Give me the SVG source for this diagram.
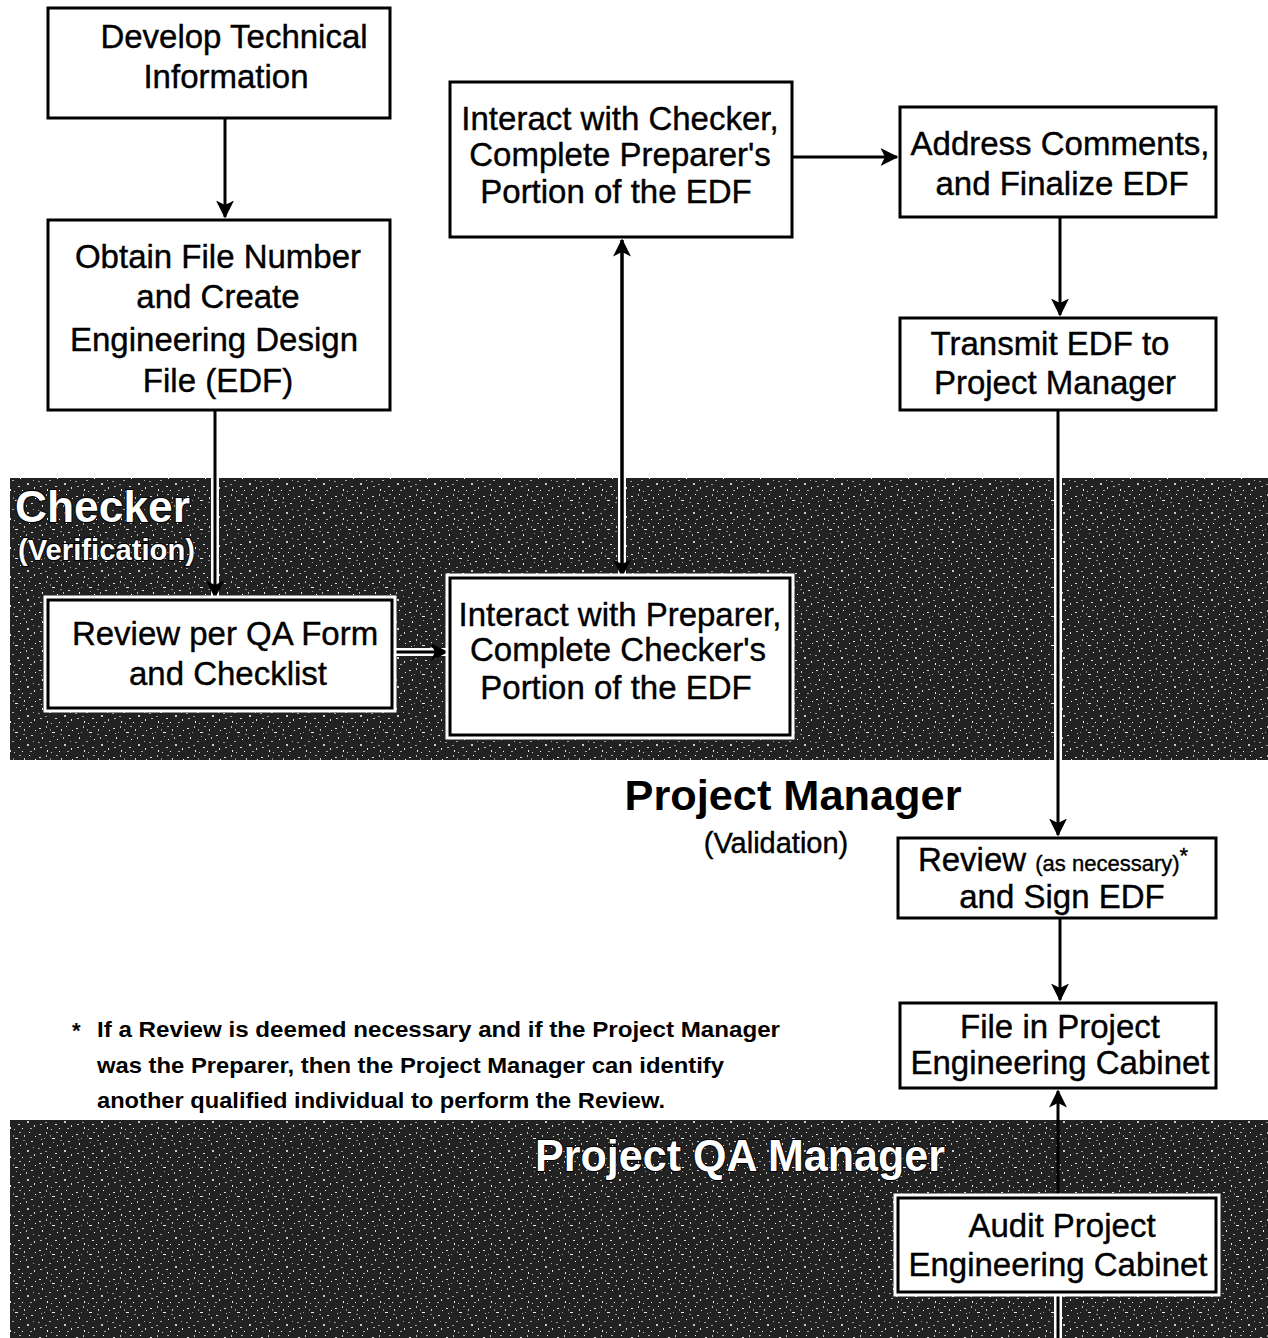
<svg xmlns="http://www.w3.org/2000/svg" width="1268" height="1338" viewBox="0 0 1268 1338">
<defs>
<style>
.box{fill:#fff;stroke:#000;stroke-width:3}
.halo{fill:none;stroke:#fff;stroke-width:9}
.t{font-family:"Liberation Sans",Arial,sans-serif;font-size:33px;fill:#000;stroke:#000;stroke-width:0.4;text-anchor:middle}
.sm{font-size:22px}
.ln{stroke:#000;stroke-width:3;fill:none}
.lnh{stroke:#fff;stroke-width:8;fill:none}
.lane{font-family:"Liberation Sans",Arial,sans-serif;font-weight:bold;fill:#fff;stroke:#000;stroke-width:2;paint-order:stroke}
.note{font-family:"Liberation Sans Narrow","Liberation Sans",Arial,sans-serif;font-weight:bold;font-size:22px;fill:#000}
</style>
<pattern id="noise" width="37" height="29" patternUnits="userSpaceOnUse">
<rect width="37" height="29" fill="#222"/>
<rect x="2" y="3" width="2" height="1" fill="#ddd"/>
<rect x="9" y="1" width="1" height="2" fill="#bbb"/>
<rect x="15" y="7" width="3" height="1" fill="#eee"/>
<rect x="24" y="4" width="1" height="2" fill="#ccc"/>
<rect x="31" y="10" width="2" height="1" fill="#ddd"/>
<rect x="5" y="12" width="1" height="2" fill="#eee"/>
<rect x="12" y="16" width="2" height="1" fill="#aaa"/>
<rect x="20" y="14" width="1" height="1" fill="#fff"/>
<rect x="27" y="19" width="2" height="2" fill="#ccc"/>
<rect x="34" y="23" width="1" height="2" fill="#ddd"/>
<rect x="3" y="22" width="2" height="1" fill="#bbb"/>
<rect x="10" y="25" width="1" height="2" fill="#eee"/>
<rect x="18" y="22" width="2" height="1" fill="#ddd"/>
<rect x="22" y="26" width="1" height="1" fill="#fff"/>
<rect x="29" y="1" width="1" height="1" fill="#fff"/>
<rect x="7" y="7" width="1" height="1" fill="#999"/>
<rect x="33" y="16" width="1" height="1" fill="#aaa"/>
<rect x="16" y="11" width="1" height="1" fill="#999"/>
<rect x="1" y="17" width="2" height="1" fill="#999"/>
<rect x="13" y="4" width="1" height="2" fill="#888"/>
<rect x="19" y="1" width="2" height="1" fill="#aaa"/>
<rect x="26" y="12" width="1" height="2" fill="#bbb"/>
<rect x="35" y="5" width="1" height="1" fill="#eee"/>
<rect x="8" y="20" width="2" height="1" fill="#999"/>
<rect x="23" y="9" width="2" height="1" fill="#888"/>
<rect x="30" y="26" width="2" height="1" fill="#aaa"/>
<rect x="14" y="27" width="1" height="1" fill="#ccc"/>
<rect x="4" y="8" width="1" height="1" fill="#bbb"/>
</pattern>
<marker id="ah" viewBox="0 0 12 12" refX="11" refY="6" markerWidth="6" markerHeight="6" orient="auto" markerUnits="strokeWidth">
<path d="M0,0 L12,6 L0,12 L3,6 z" fill="#000"/>
</marker>
</defs>

<g id="lanes">
<rect x="10" y="478" width="1258" height="282" fill="url(#noise)"/>
<rect x="10" y="1120" width="1258" height="218" fill="url(#noise)"/>
<text class="lane" x="15" y="522" font-size="44" textLength="175" lengthAdjust="spacingAndGlyphs">Checker</text>
<text class="lane" x="18" y="560" font-size="30" textLength="177" lengthAdjust="spacingAndGlyphs">(Verification)</text>
<text class="lane" x="535" y="1171" font-size="44" textLength="410" lengthAdjust="spacingAndGlyphs">Project QA Manager</text>
<text x="793" y="810" font-family="Liberation Sans,Arial,sans-serif" font-weight="bold" font-size="42" text-anchor="middle" textLength="337" lengthAdjust="spacingAndGlyphs">Project Manager</text>
<text x="776" y="853" font-family="Liberation Sans,Arial,sans-serif" font-size="29" text-anchor="middle" stroke="#000" stroke-width="0.4">(Validation)</text>
</g>

<g id="connectors">
<path class="lnh" d="M215,410 V596 M392,652 H446 M622,240 V576 M1058,410 V835 M1058,1292 V1338"/>
<line class="ln" x1="225" y1="118" x2="225" y2="217" marker-end="url(#ah)"/>
<line class="ln" x1="215" y1="410" x2="215" y2="597" marker-end="url(#ah)"/>
<line class="ln" x1="392" y1="652" x2="447" y2="652" marker-end="url(#ah)"/>
<line class="ln" x1="622" y1="576" x2="622" y2="240" marker-end="url(#ah)"/>
<line class="ln" x1="622" y1="240" x2="622" y2="576" marker-end="url(#ah)"/>
<line class="ln" x1="792" y1="157" x2="897" y2="157" marker-end="url(#ah)"/>
<line class="ln" x1="1060" y1="217" x2="1060" y2="315" marker-end="url(#ah)"/>
<line class="ln" x1="1058" y1="410" x2="1058" y2="835" marker-end="url(#ah)"/>
<line class="ln" x1="1060" y1="918" x2="1060" y2="1000" marker-end="url(#ah)"/>
<line class="ln" x1="1058" y1="1198" x2="1058" y2="1091" marker-end="url(#ah)"/>
<line class="ln" x1="1058" y1="1292" x2="1058" y2="1338"/>
</g>

<g id="n1"><rect class="box" x="48" y="8" width="342" height="110"/>
<text class="t" x="234" y="48">Develop Technical</text><text class="t" x="226" y="88">Information</text></g>

<g id="n2"><rect class="box" x="48" y="220" width="342" height="190"/>
<text class="t" x="218" y="268">Obtain File Number</text><text class="t" x="218" y="308">and Create</text>
<text class="t" x="214" y="351">Engineering Design</text><text class="t" x="218" y="392">File (EDF)</text></g>

<g id="n3"><rect class="halo" x="48" y="600" width="344" height="108"/><rect class="box" x="48" y="600" width="344" height="108"/>
<text class="t" x="225" y="645">Review per QA Form</text><text class="t" x="228" y="685">and Checklist</text></g>

<g id="n4"><rect class="halo" x="450" y="578" width="340" height="157"/><rect class="box" x="450" y="578" width="340" height="157"/>
<text class="t" x="620" y="626">Interact with Preparer,</text><text class="t" x="618" y="661">Complete Checker's</text>
<text class="t" x="616" y="699">Portion of the EDF</text></g>

<g id="n5"><rect class="box" x="450" y="82" width="342" height="155"/>
<text class="t" x="620" y="130">Interact with Checker,</text><text class="t" x="620" y="166">Complete  Preparer's</text>
<text class="t" x="616" y="203">Portion of the EDF</text></g>

<g id="n6"><rect class="box" x="900" y="107" width="316" height="110"/>
<text class="t" x="1060" y="155">Address Comments,</text><text class="t" x="1062" y="195">and Finalize EDF</text></g>

<g id="n7"><rect class="box" x="900" y="318" width="316" height="92"/>
<text class="t" x="1050" y="355">Transmit EDF to</text><text class="t" x="1055" y="394">Project Manager</text></g>

<g id="n8"><rect class="box" x="898" y="838" width="318" height="80"/>
<text class="t" x="1053" y="871">Review <tspan class="sm">(as necessary)</tspan><tspan class="sm" dy="-8">*</tspan></text>
<text class="t" x="1062" y="908">and Sign EDF</text></g>

<g id="n9"><rect class="box" x="900" y="1003" width="316" height="85"/>
<text class="t" x="1060" y="1038">File in Project</text><text class="t" x="1060" y="1074">Engineering Cabinet</text></g>

<g id="n10"><rect class="halo" x="898" y="1198" width="318" height="94"/><rect class="box" x="898" y="1198" width="318" height="94"/>
<text class="t" x="1062" y="1237">Audit Project</text><text class="t" x="1058" y="1276">Engineering Cabinet</text></g>

<g id="footnote">
<text class="note" x="72" y="1038">*</text>
<text class="note" x="97" y="1037" textLength="683" lengthAdjust="spacingAndGlyphs">If a Review is deemed necessary and if the Project Manager</text>
<text class="note" x="97" y="1073" textLength="627" lengthAdjust="spacingAndGlyphs">was the Preparer, then the Project Manager can identify</text>
<text class="note" x="97" y="1108" textLength="568" lengthAdjust="spacingAndGlyphs">another qualified individual to perform the Review.</text>
</g>
</svg>
